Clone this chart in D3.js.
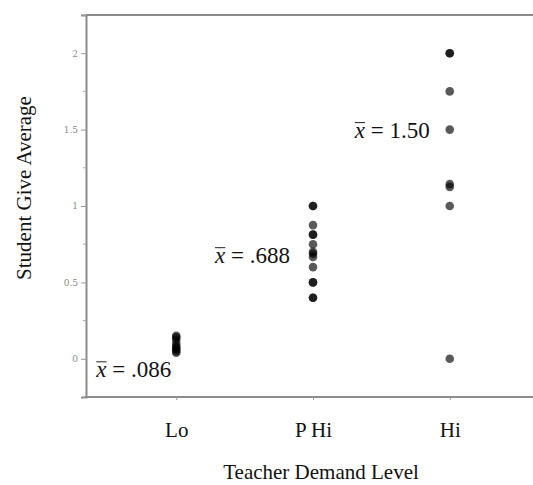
<!DOCTYPE html>
<html>
<head>
<meta charset="utf-8">
<script src="https://cdn.jsdelivr.net/npm/d3@7"></script>
<style>
  body { margin: 0; background: #fff; }
  text { font-family: "Liberation Serif", "DejaVu Serif", serif; }
</style>
</head>
<body>
<div id="chart"></div>
<script>
var width = 533, height = 485;

// data
var levels = ["Lo", "P Hi", "Hi"];
var loValues = [0.15, 0.14, 0.125, 0.1, 0.083, 0.0714, 0.0625, 0.05, 0.04];
var pHiValues = [1, 1, 0.875, 0.8125, 0.8125, 0.75, 0.7, 0.6875, 0.667, 0.6, 0.5, 0.5, 0.4, 0.4];
var hiValues = [2, 2, 1.75, 1.5, 1.143, 1.125, 1, 0];
var meanLabels = [".086", ".688", "1.50"];
var meanValues = [0.086, 0.688, 1.5];
var yTicks = [0, 0.5, 1, 1.5, 2];
var yMinorTicks = [-0.25, 0.25, 0.75, 1.25, 1.75, 2.25];

var svg = d3.select("#chart").append("svg")
    .attr("width", width)
    .attr("height", height)

var plotLeft = 86, plotTop = 15, plotBottom = 397;
var serif = "'Liberation Serif', 'DejaVu Serif', serif";

var x = d3.scalePoint()
    .domain(levels)
    .range([plotLeft, 540])
    .padding(0.66)

var y = d3.scaleLinear()
    .domain([-0.25, 2.25])
    .range([plotBottom, plotTop])

var points = [];
[loValues, pHiValues, hiValues].forEach((vals, i) => {
    vals.forEach(v => points.push({level: levels[i], value: v}))
})

// frame
svg.append("line")
    .attr("x1", plotLeft).attr("x2", width)
    .attr("y1", plotTop).attr("y2", plotTop)
    .style("stroke", "#8c8c8c").style("stroke-width", 2)

// y axis
var yAxis = svg.append("g")
    .attr("transform", "translate(" + plotLeft + ",0)")
    .call(d3.axisLeft(y).tickValues(yTicks).tickSize(5).tickPadding(3)
        .tickFormat(d => d3.format("")(d)))
yAxis.select(".domain").style("stroke", "#8c8c8c").style("stroke-width", 2)
yAxis.selectAll(".tick line").style("stroke", "#999")
yAxis.selectAll(".tick text")
    .style("font-family", "'DejaVu Serif', serif")
    .style("font-size", "9px")
    .style("fill", "#8a8a8a")

svg.append("g").selectAll("line")
    .data(yMinorTicks)
    .enter()
    .append("line")
    .attr("x1", plotLeft - 3).attr("x2", plotLeft)
    .attr("y1", d => y(d)).attr("y2", d => y(d))
    .style("stroke", "#aaa")

// x axis
var xAxis = svg.append("g")
    .attr("transform", "translate(0," + plotBottom + ")")
    .call(d3.axisBottom(x).tickSize(3).tickSizeOuter(0).tickPadding(22))
xAxis.select(".domain")
    .attr("d", "M" + (plotLeft - 1) + ",0H" + width)
    .style("stroke", "#8c8c8c").style("stroke-width", 2)
xAxis.selectAll(".tick line").style("stroke", "#999")
xAxis.selectAll(".tick text")
    .style("font-family", serif)
    .style("font-size", "21px")
    .style("fill", "#111")

// points
svg.append("g").selectAll("circle")
    .data(points)
    .enter()
    .append("circle")
    .attr("cx", d => x(d.level))
    .attr("cy", d => y(d.value))
    .attr("r", 4.3)
    .style("fill", "#000")
    .style("fill-opacity", 0.65)

// mean labels
var labelDx = [-5, -23, -20];
var labelDy = [18, 9, 8];
meanLabels.forEach((lab, i) => {
    var ay = (i == 0) ? y(0) : y(meanValues[i]);
    var t = svg.append("text")
        .attr("x", x(levels[i]) + labelDx[i])
        .attr("y", ay + labelDy[i])
        .style("text-anchor", "end")
        .style("font-family", serif)
        .style("font-size", "23px")
        .style("fill", "#111")
    t.append("tspan").style("font-style", "italic").text("x")
    t.append("tspan").text(" = ")
    t.append("tspan").text(lab)
    var bb = t.node().getBBox();
    var xw = t.node().getSubStringLength(0, 1);
    svg.append("line")
        .attr("x1", bb.x + 1).attr("x2", bb.x + xw + 1)
        .attr("y1", ay + labelDy[i] - 15).attr("y2", ay + labelDy[i] - 15)
        .style("stroke", "#222").style("stroke-width", 1)
})

// axis titles
svg.append("text")
    .attr("x", 321)
    .attr("y", 479)
    .style("text-anchor", "middle")
    .style("font-family", serif)
    .style("font-size", "21px")
    .style("fill", "#111")
    .text("Teacher Demand Level")

svg.append("text")
    .attr("transform", "translate(31,188) rotate(-90)")
    .style("text-anchor", "middle")
    .style("font-family", serif)
    .style("font-size", "21px")
    .style("fill", "#111")
    .text("Student Give Average")
</script>
</body>
</html>
